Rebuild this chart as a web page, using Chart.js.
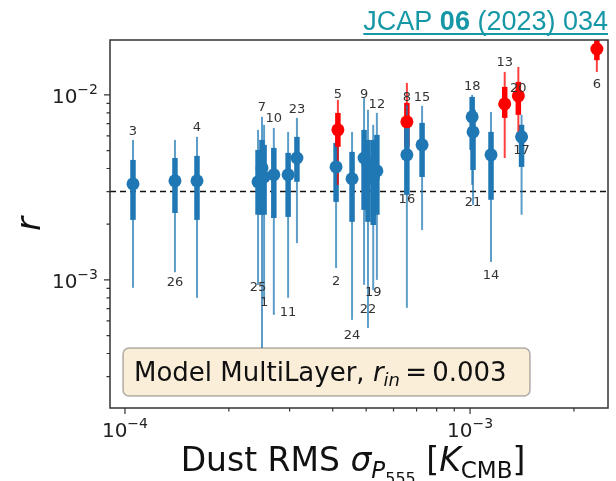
<!DOCTYPE html>
<html>
<head>
<meta charset="utf-8">
<script src="https://cdn.jsdelivr.net/npm/chart.js@4/dist/chart.umd.min.js"></script>
<style>
  html, body { margin: 0; padding: 0; background: #fff; }
  canvas { display: block; }
</style>
</head>
<body>
<canvas id="c" width="616" height="481"></canvas>
<script>
// field index 1..26
const ids = [1, 2, 3, 4, 5, 6, 7, 8, 9, 10, 11, 12, 13, 14, 15, 16, 17, 18, 19, 20, 21, 22, 23, 24, 25, 26];
// dust RMS sigma_P555 [K_CMB]
const sigma = [2.53e-4, 4.09e-4, 1.055e-4, 1.617e-4, 4.14e-4, 2.33e-3, 2.495e-4, 6.56e-4, 4.93e-4, 2.70e-4,
  2.97e-4, 5.37e-4, 1.26e-3, 1.15e-3, 7.26e-4, 6.56e-4, 1.41e-3, 1.014e-3, 5.24e-4, 1.38e-3,
  1.02e-3, 5.06e-4, 3.15e-4, 4.55e-4, 2.43e-4, 1.396e-4];
// recovered r
const rFit = [0.00360, 0.00408, 0.00330, 0.00343, 0.00647, 0.0177, 0.00403, 0.00715, 0.00456, 0.00370,
  0.00370, 0.00388, 0.00894, 0.00474, 0.00537, 0.00474, 0.00593, 0.00761, 0.00356, 0.00988,
  0.00631, 0.00419, 0.00456, 0.00352, 0.00339, 0.00343];
// 68% interval (thick bars)
const r68Lo = [0.00225, 0.00264, 0.00211, 0.00211, 0.00524, 0.0154, 0.00225, 0.00524, 0.00239, 0.00216,
  0.00219, 0.00225, 0.00751, 0.00271, 0.00360, 0.00288, 0.00408, 0.00504, 0.00198, 0.00780,
  0.00393, 0.00206, 0.00339, 0.00206, 0.00225, 0.00230];
const r68Hi = [0.00537, 0.00550, 0.00445, 0.00468, 0.00799, 0.0210, 0.00571, 0.00906, 0.00647, 0.00517,
  0.00486, 0.00608, 0.01105, 0.00631, 0.00706, 0.00689, 0.00689, 0.00975, 0.00571, 0.01175,
  0.00830, 0.00571, 0.00593, 0.00492, 0.00504, 0.00456];
// 95% interval (thin whiskers)
const r95Lo = [0.00078, 0.00116, 0.000906, 0.00080, 0.00326, 0.0133, 0.000429, 0.00306, 0.00094, 0.000647,
  0.00080, 0.00100, 0.00456, 0.00125, 0.00186, 0.000706, 0.00225, 0.00326, 0.00088, 0.00571,
  0.00254, 0.00055, 0.00158, 0.000608, 0.00094, 0.00110];
const r95Hi = [0.00689, 0.00689, 0.00571, 0.00593, 0.00940, 0.0240, 0.00761, 0.01161, 0.00963, 0.00663,
  0.00631, 0.00799, 0.01331, 0.00809, 0.00872, 0.00883, 0.00780, 0.0100, 0.00689, 0.01416,
  0.00940, 0.00830, 0.00751, 0.00631, 0.00647, 0.00571];
// fields flagged as biased (drawn red)
const biasedIds = [5, 6, 8, 13, 20];
// where each index number sits (in r)
const labelR = [0.000751, 0.000975, 0.00631, 0.00663, 0.0100, 0.01132, 0.00851, 0.00963, 0.0100, 0.00742,
  0.000663, 0.00883, 0.01489, 0.00106, 0.00963, 0.00271, 0.00498, 0.01105, 0.000851, 0.0108,
  0.00261, 0.000689, 0.00830, 0.000498, 0.000906, 0.000963];
const rIn = 0.003;
const xRange = [9.05e-5, 2.51e-3];
const yRange = [2.03e-4, 1.98e-2];
const xMajor = [1e-4, 1e-3];
const yMajor = [1e-3, 1e-2];

const BLUE = '#1f77b4', RED = '#ff0000';
const colors = ids.map(i => biasedIds.includes(i) ? RED : BLUE);
const points = ids.map((_, k) => ({ x: sigma[k], y: rFit[k] }));

function minorTicks(lo, hi) {
  const out = [];
  for (let e = Math.floor(Math.log10(lo)); e <= Math.ceil(Math.log10(hi)); e++) {
    for (let m = 2; m <= 9; m++) {
      const v = m * Math.pow(10, e);
      if (v > lo && v < hi) out.push(v);
    }
  }
  return out;
}

// draw a run of text pieces [{t, f, dy}] starting at x (or centred / right aligned)
function drawRuns(ctx, runs, x, y, align) {
  let w = 0;
  runs.forEach(r => { ctx.font = r.f; w += ctx.measureText(r.t).width; });
  let cx = align === 'center' ? x - w / 2 : align === 'right' ? x - w : x;
  ctx.textAlign = 'left';
  ctx.textBaseline = 'alphabetic';
  runs.forEach(r => {
    ctx.font = r.f;
    ctx.fillText(r.t, cx, y + (r.dy || 0));
    cx += ctx.measureText(r.t).width;
  });
  return w;
}

const SANS = '"DejaVu Sans"';

const decor = {
  id: 'decor',
  beforeDatasetsDraw(chart) {
    const { ctx, chartArea: a, scales: { x, y } } = chart;
    ctx.save();
    ctx.beginPath();
    ctx.rect(a.left, a.top, a.right - a.left, a.bottom - a.top);
    ctx.clip();
    // input r
    ctx.strokeStyle = '#111';
    ctx.lineWidth = 1.5;
    ctx.setLineDash([6, 4]);
    ctx.beginPath();
    ctx.moveTo(a.left, y.getPixelForValue(rIn));
    ctx.lineTo(a.right, y.getPixelForValue(rIn));
    ctx.stroke();
    ctx.setLineDash([]);
    // error bars, in index order
    ids.forEach((id, k) => {
      const px = x.getPixelForValue(sigma[k]);
      const red = biasedIds.includes(id);
      ctx.lineCap = 'butt';
      ctx.strokeStyle = red ? 'rgba(255,0,0,0.75)' : 'rgba(31,119,180,0.72)';
      ctx.lineWidth = 2;
      ctx.beginPath();
      ctx.moveTo(px, y.getPixelForValue(r95Lo[k]));
      ctx.lineTo(px, y.getPixelForValue(r95Hi[k]));
      ctx.stroke();
      ctx.strokeStyle = red ? RED : BLUE;
      ctx.lineWidth = 5.5;
      ctx.beginPath();
      ctx.moveTo(px, y.getPixelForValue(r68Lo[k]));
      ctx.lineTo(px, y.getPixelForValue(r68Hi[k]));
      ctx.stroke();
    });
    ctx.restore();
  },
  afterDatasetsDraw(chart) {
    const { ctx, chartArea: a, scales: { x, y } } = chart;
    ctx.save();
    // index numbers
    ctx.fillStyle = '#333';
    ctx.font = '13px ' + SANS;
    ctx.textAlign = 'center';
    ctx.textBaseline = 'middle';
    ids.forEach((id, k) => {
      ctx.fillText(String(id), x.getPixelForValue(sigma[k]), y.getPixelForValue(labelR[k]));
    });
    // model box
    const bx = 123, by = 348, bw = 407, bh = 48;
    ctx.beginPath();
    ctx.roundRect(bx, by, bw, bh, 6);
    ctx.fillStyle = 'rgba(245,222,179,0.5)';
    ctx.fill();
    ctx.strokeStyle = 'rgba(0,0,0,0.3)';
    ctx.lineWidth = 1.5;
    ctx.stroke();
    ctx.fillStyle = '#111';
    drawRuns(ctx, [
      { t: 'Model MultiLayer, ', f: '26px ' + SANS },
      { t: 'r', f: 'italic 26px ' + SANS },
      { t: 'in', f: 'italic 18px ' + SANS, dy: 5 },
      { t: '\u2009=\u20090.003', f: '26px ' + SANS }
    ], 134, 381, 'left');
    ctx.restore();
  },
  afterDraw(chart) {
    const { ctx, chartArea: a, scales: { x, y } } = chart;
    ctx.save();
    // frame
    ctx.strokeStyle = '#333';
    ctx.lineWidth = 1.5;
    ctx.strokeRect(a.left, a.top, a.right - a.left, a.bottom - a.top);
    // ticks
    ctx.lineWidth = 1.2;
    ctx.beginPath();
    xMajor.forEach(v => { const p = x.getPixelForValue(v); ctx.moveTo(p, a.bottom); ctx.lineTo(p, a.bottom + 6); });
    minorTicks(xRange[0], xRange[1]).forEach(v => { const p = x.getPixelForValue(v); ctx.moveTo(p, a.bottom); ctx.lineTo(p, a.bottom + 3.5); });
    yMajor.forEach(v => { const p = y.getPixelForValue(v); ctx.moveTo(a.left, p); ctx.lineTo(a.left - 6, p); });
    minorTicks(yRange[0], yRange[1]).forEach(v => { const p = y.getPixelForValue(v); ctx.moveTo(a.left, p); ctx.lineTo(a.left - 3.5, p); });
    ctx.stroke();
    // tick labels
    ctx.fillStyle = '#222';
    xMajor.forEach(v => {
      drawRuns(ctx, [
        { t: '10', f: '20px ' + SANS },
        { t: '\u2212' + (-Math.round(Math.log10(v))), f: '14px ' + SANS, dy: -9 }
      ], x.getPixelForValue(v), a.bottom + 29, 'center');
    });
    yMajor.forEach(v => {
      drawRuns(ctx, [
        { t: '10', f: '20px ' + SANS },
        { t: '\u2212' + (-Math.round(Math.log10(v))), f: '14px ' + SANS, dy: -9 }
      ], a.left - 12, y.getPixelForValue(v) + 8, 'right');
    });
    // axis titles
    ctx.fillStyle = '#111';
    drawRuns(ctx, [
      { t: 'Dust RMS ', f: '33px ' + SANS },
      { t: '\u03c3', f: 'italic 33px ' + SANS },
      { t: 'P', f: 'italic 23px ' + SANS, dy: 7 },
      { t: '555', f: '16px ' + SANS, dy: 13 },
      { t: ' [', f: '33px ' + SANS },
      { t: 'K', f: 'italic 33px ' + SANS },
      { t: 'CMB', f: '23px ' + SANS, dy: 7 },
      { t: ']', f: '33px ' + SANS }
    ], 353, 471, 'center');
    ctx.translate(40, (a.top + a.bottom) / 2);
    ctx.rotate(-Math.PI / 2);
    ctx.font = 'italic 34px ' + SANS;
    ctx.textAlign = 'center';
    ctx.textBaseline = 'alphabetic';
    ctx.fillText('r', 0, 0);
    ctx.restore();
    // journal reference
    ctx.save();
    ctx.fillStyle = '#1697a6';
    const w = drawRuns(ctx, [
      { t: 'JCAP ', f: '27px "Liberation Sans"' },
      { t: '06', f: 'bold 27px "Liberation Sans"' },
      { t: ' (2023) 034', f: '27px "Liberation Sans"' }
    ], 608, 30, 'right');
    ctx.fillRect(608 - w, 33, w, 2);
    ctx.restore();
  }
};

new Chart(document.getElementById('c').getContext('2d'), {
  type: 'scatter',
  data: {
    datasets: [{
      data: points,
      pointRadius: 6.5,
      pointHoverRadius: 6.5,
      pointBackgroundColor: colors,
      pointBorderColor: colors,
      pointBorderWidth: 0
    }]
  },
  options: {
    responsive: false,
    animation: false,
    events: [],
    layout: { padding: { left: 110, right: 8, top: 40, bottom: 73 } },
    scales: {
      x: { type: 'logarithmic', min: xRange[0], max: xRange[1], display: false },
      y: { type: 'logarithmic', min: yRange[0], max: yRange[1], display: false }
    },
    plugins: { legend: { display: false }, tooltip: { enabled: false } }
  },
  plugins: [decor]
});
</script>
</body>
</html>
